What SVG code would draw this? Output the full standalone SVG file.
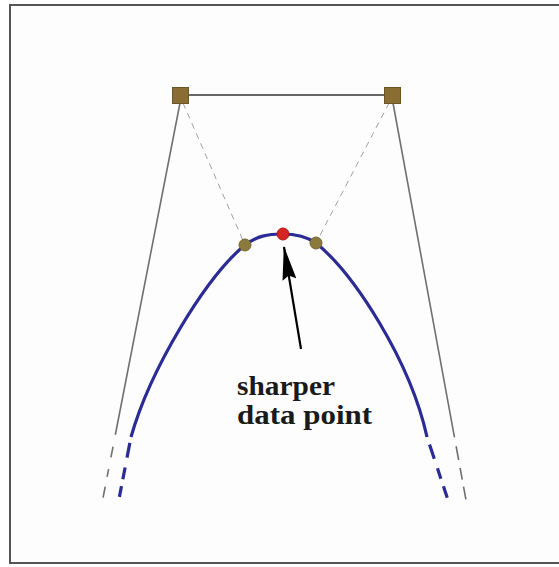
<svg xmlns="http://www.w3.org/2000/svg" width="559" height="567" viewBox="0 0 559 567">
<defs>
<style>
.frame{fill:#fdfdfd;stroke:#555;stroke-width:2}
.ctrl{fill:none;stroke:#707070;stroke-width:1.6}
.hull{fill:none;stroke:#a0a0a0;stroke-width:1;stroke-dasharray:6 5}
.curve{fill:none;stroke:#2b2b96;stroke-width:3.2;stroke-linecap:butt}
.sq{fill:#8a6d33;stroke:#6e5526;stroke-width:1}
.knot{fill:#8c7a3c;stroke:#75652f;stroke-width:1}
.pt{fill:#d42424;stroke:#b01818;stroke-width:1}
.lbl{font-family:"Liberation Serif",serif;font-weight:bold;font-size:28px;fill:#1a1a1a}
</style>
<marker id="ah" viewBox="0 0 34 14" refX="33" refY="7" markerWidth="34" markerHeight="14" markerUnits="userSpaceOnUse" orient="auto">
<path d="M0,0 L34,7 L0,14 L4,7 Z" fill="#000"/>
</marker>
</defs>
<rect class="frame" x="10" y="5" width="560" height="558"/>
<g id="connectors">
<line class="ctrl" x1="180" y1="95" x2="392" y2="95" style="stroke:#666;stroke-width:2"/>
<line class="ctrl" x1="180" y1="103" x2="103" y2="498" stroke-dasharray="338 12 11 12 8 10 11 100"/>
<line class="ctrl" x1="393" y1="103" x2="466" y2="500" stroke-dasharray="340 9 14 8 12 7 13 100"/>
<line class="hull" x1="183" y1="103" x2="245" y2="245"/>
<line class="hull" x1="389" y1="103" x2="316" y2="243"/>
<path class="curve" d="M131,437 C150,370 205,278 245,245 C257,236 268,234 282,234 C296,234 306,236 316,243 C354,274 410,360 427,437"/>
<line class="curve" x1="131" y1="437" x2="119" y2="499" stroke-dasharray="0 6 15 10 12 7 11 100"/>
<line class="curve" x1="427" y1="437" x2="448" y2="500" stroke-dasharray="0 8 15 10 11 8 12 100"/>
<line x1="301" y1="349" x2="284" y2="247" stroke="#000" stroke-width="2.2" marker-end="url(#ah)"/>
</g>
<g id="ctrl-left"><rect class="sq" x="172.5" y="87.5" width="16" height="16"/></g>
<g id="ctrl-right"><rect class="sq" x="384.5" y="87.5" width="16" height="16"/></g>
<g id="knot-left"><circle class="knot" cx="245" cy="245" r="6"/></g>
<g id="knot-right"><circle class="knot" cx="316" cy="243" r="6"/></g>
<g id="sharp-point"><circle class="pt" cx="283" cy="234" r="6"/></g>
<g id="label">
<text class="lbl" x="237" y="395" textLength="98" lengthAdjust="spacingAndGlyphs">sharper</text>
<text class="lbl" x="237" y="424" textLength="135" lengthAdjust="spacingAndGlyphs">data point</text>
</g>
</svg>
